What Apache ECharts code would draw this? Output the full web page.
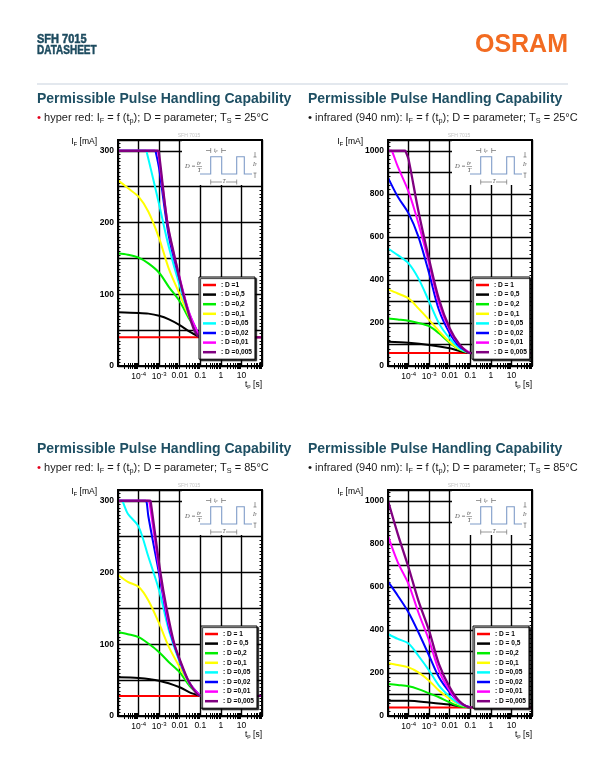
<!DOCTYPE html>
<html><head><meta charset="utf-8">
<script src="https://cdn.jsdelivr.net/npm/echarts@6/dist/echarts.min.js"></script>
<style>html,body{margin:0;padding:0;background:#fff;}#c{width:604px;height:757px;}</style>
</head><body><div id="c"></div>
<script>
// ---------------- DATA ----------------
// pulse length tp [s] vs permissible forward current IF [mA]; one array per duty cycle D
const hr25_D1     = [[1e-5,40],[100,40]];
const hr25_D05    = [[1e-5,75],[1e-4,74],[3e-4,73],[1e-3,70],[3e-3,65],[0.01,57],[0.03,48],[0.1,40]];
const hr25_D02    = [[1e-5,157],[3e-5,155],[1e-4,151],[3e-4,143],[1e-3,130],[3e-3,110],[0.01,90],[0.03,65],[0.1,41]];
const hr25_D01    = [[1e-5,259],[3e-5,248],[1e-4,236],[3e-4,215],[1e-3,178],[3e-3,135],[0.01,100],[0.03,68],[0.1,40]];
const hr25_D005   = [[1e-5,300],[2.3e-4,300],[2.6e-4,296],[5e-4,262],[1e-3,225],[3e-3,165],[0.01,112],[0.03,70],[0.1,40]];
const hr25_D002   = [[1e-5,300],[6.3e-4,300],[7e-4,297],[1e-3,275],[3e-3,180],[0.01,120],[0.03,72],[0.1,40]];
const hr25_D001   = [[1e-5,300],[8.2e-4,300],[9e-4,297],[3e-3,187],[0.01,123],[0.03,73],[0.1,40]];
const hr25_D0005  = [[1e-5,300],[8.8e-4,300],[1e-3,295],[2.5e-3,200],[5.9e-3,150],[0.015,100],[0.046,53],[0.1,40],[0.12,40],[100,40]];

const ir25_D1     = [[1e-5,60],[100,60]];
const ir25_D05    = [[1e-5,113],[1e-4,108],[1e-3,98],[0.01,82],[0.03,70],[0.1,60]];
const ir25_D02    = [[1e-5,221],[3e-5,216],[1e-4,210],[3e-4,200],[1e-3,185],[3e-3,152],[0.01,108],[0.03,76],[0.1,60]];
const ir25_D01    = [[1e-5,356],[3e-5,337],[1e-4,314],[3e-4,268],[1e-3,214],[3e-3,162],[0.01,112],[0.03,78],[0.1,60]];
const ir25_D005   = [[1e-5,546],[3e-5,515],[1e-4,477],[3e-4,407],[1e-3,299],[3e-3,198],[0.01,128],[0.03,82],[0.1,60]];
const ir25_D002   = [[1e-5,875],[3e-5,786],[1e-4,709],[3e-4,601],[1e-3,430],[3e-3,260],[0.01,152],[0.03,90],[0.1,60]];
const ir25_D001   = [[1e-5,1000],[1.5e-5,1000],[1.7e-5,990],[3e-5,926],[1e-4,810],[3e-4,663],[1e-3,475],[3e-3,291],[0.01,167],[0.03,98],[0.1,60]];
const ir25_D0005  = [[1e-5,1000],[6.8e-5,1000],[7.6e-5,992],[1e-4,960],[3e-4,720],[1e-3,495],[3e-3,310],[0.01,175],[0.03,100],[0.1,60],[0.12,60],[100,60]];

const hr85_D1     = [[1e-5,28],[100,28]];
const hr85_D05    = [[1e-5,54],[1e-4,53],[1e-3,49],[0.01,40],[0.03,33],[0.1,28]];
const hr85_D02    = [[1e-5,117],[3e-5,114],[1e-4,110],[3e-4,101],[1e-3,89],[3e-3,75],[0.01,61],[0.03,42],[0.1,28]];
const hr85_D01    = [[1e-5,197],[3e-5,187],[1e-4,180],[3e-4,161],[1e-3,129],[3e-3,96],[0.01,68],[0.03,45],[0.1,28]];
const hr85_D005   = [[1e-5,300],[1.6e-5,300],[1.8e-5,297],[3e-5,282],[1e-4,264],[3e-4,222],[1e-3,175],[3e-3,119],[0.01,75],[0.03,45],[0.1,28]];
const hr85_D002   = [[1e-5,300],[2.2e-4,300],[2.5e-4,297],[3e-4,278],[1e-3,198],[3e-3,124],[0.01,77],[0.03,46],[0.1,28]];
const hr85_D001   = [[1e-5,300],[3e-4,300],[3.4e-4,297],[1e-3,205],[3e-3,127],[0.01,78],[0.03,46],[0.1,28]];
const hr85_D0005  = [[1e-5,300],[3.6e-4,300],[4e-4,296],[1.15e-3,200],[2.3e-3,150],[5.5e-3,100],[0.01,79],[0.03,46],[0.1,28],[0.12,28],[100,28]];

const ir85_D1     = [[1e-5,40],[100,40]];
const ir85_D05    = [[1e-5,71],[1e-4,71],[1e-3,63],[0.01,53],[0.03,45],[0.1,40]];
const ir85_D02    = [[1e-5,149],[3e-5,144],[1e-4,138],[3e-4,125],[1e-3,105],[3e-3,87],[0.01,63],[0.03,45],[0.1,40]];
const ir85_D01    = [[1e-5,245],[3e-5,237],[1e-4,226],[3e-4,203],[1e-3,164],[3e-3,118],[0.01,79],[0.03,53],[0.1,40]];
const ir85_D005   = [[1e-5,381],[3e-5,358],[1e-4,337],[3e-4,280],[1e-3,211],[3e-3,141],[0.01,90],[0.03,56],[0.1,40]];
const ir85_D002   = [[1e-5,624],[3e-5,559],[1e-4,481],[3e-4,389],[1e-3,280],[3e-3,180],[0.01,110],[0.03,63],[0.1,40]];
const ir85_D001   = [[1e-5,837],[3e-5,714],[1e-4,613],[3e-4,481],[1e-3,350],[3e-3,211],[0.01,118],[0.03,63],[0.1,40]];
const ir85_D0005  = [[1e-5,1000],[3e-5,845],[1e-4,690],[3e-4,536],[1e-3,396],[3e-3,241],[0.01,133],[0.03,68],[0.1,40],[0.12,40],[100,40]];

const legend_hr25 = [': D =1',': D =0,5',': D =0,2',': D =0,1',': D =0,05',': D =0,02',': D =0,01',': D =0,005'];
const legend_ir25 = [': D = 1',': D = 0,5',': D = 0,2',': D = 0,1',': D = 0,05',': D = 0,02',': D = 0,01',': D = 0,005'];
const legend_hr85 = [': D = 1',': D = 0,5',': D =0,2',': D =0,1',': D =0,05',': D =0,02',': D =0,01',': D =0,005'];
const legend_ir85 = [': D = 1',': D = 0,5',': D =0,2',': D =0,1',': D =0,05',': D =0,02',': D =0,01',': D =0,005'];

const yMax300 = 315, yMax1000 = 1050;
const yLabelStep300 = 100, yLabelStep1000 = 200;
const xTickExp = {'-4':'10{sup|-4}','-3':'10{sup|-3}','-2':'0.01','-1':'0.1','0':'1','1':'10'};

// ---------------- STYLE / LAYOUT ----------------
const dColors = ['#ff0000','#000000','#00ee00','#ffff00','#00ffff','#0000ff','#ff00ff','#800080'];
const W = 144, H = 226;
const panels = [
  {L:118, T:140, data:[hr25_D1,hr25_D05,hr25_D02,hr25_D01,hr25_D005,hr25_D002,hr25_D001,hr25_D0005], leg:legend_hr25, yMax:yMax300, yInt:50, yLab:yLabelStep300, minor:10, legPos:[199,277], title:'hr', temp:'25'},
  {L:388, T:140, data:[ir25_D1,ir25_D05,ir25_D02,ir25_D01,ir25_D005,ir25_D002,ir25_D001,ir25_D0005], leg:legend_ir25, yMax:yMax1000, yInt:100, yLab:yLabelStep1000, minor:5, legPos:[472,277], title:'ir', temp:'25'},
  {L:118, T:490, data:[hr85_D1,hr85_D05,hr85_D02,hr85_D01,hr85_D005,hr85_D002,hr85_D001,hr85_D0005], leg:legend_hr85, yMax:yMax300, yInt:50, yLab:yLabelStep300, minor:10, legPos:[201,626], title:'hr', temp:'85'},
  {L:388, T:490, data:[ir85_D1,ir85_D05,ir85_D02,ir85_D01,ir85_D005,ir85_D002,ir85_D001,ir85_D0005], leg:legend_ir85, yMax:yMax1000, yInt:100, yLab:yLabelStep1000, minor:5, legPos:[473,626], title:'ir', temp:'85'}
];
const FF = '"Liberation Sans", Arial, sans-serif';
const minorVals = [];
for (let e=-5;e<2;e++) for (let m=2;m<10;m++) minorVals.push(m*Math.pow(10,e));

const grid=[], xAxis=[], yAxis=[], series=[], legend=[], graphic=[], title=[];

panels.forEach((p,i)=>{
  grid.push({left:p.L, top:p.T, width:W, height:H, show:false});
  xAxis.push({type:'log', logBase:10, gridIndex:i, min:1e-5, max:100,
    axisLine:{show:false}, axisTick:{show:false},
    splitLine:{show:true, lineStyle:{color:'#000', width:1.4}},
    axisLabel:{margin:5, color:'#000', fontSize:8.5, fontFamily:FF,
      formatter:v=>{const e=Math.round(Math.log10(v)); return xTickExp[String(e)]||'';},
      rich:{sup:{fontSize:6, verticalAlign:'top', fontFamily:FF, color:'#000', padding:[0,0,5,0]}}}});
  xAxis.push({type:'log', logBase:10, gridIndex:i, min:1e-5, max:100, position:'top',
    axisLine:{show:false}, axisLabel:{show:false}, splitLine:{show:false},
    axisTick:{show:true, inside:true, length:3, customValues:minorVals, lineStyle:{color:'#000', width:1}}});
  xAxis.push({type:'log', logBase:10, gridIndex:i, min:1e-5, max:100, position:'bottom',
    axisLine:{show:false}, axisLabel:{show:false}, splitLine:{show:false},
    axisTick:{show:true, inside:true, length:3, customValues:minorVals, lineStyle:{color:'#000', width:1}}});
  yAxis.push({type:'value', gridIndex:i, min:0, max:p.yMax, interval:p.yInt,
    axisLine:{show:false}, axisTick:{show:false, inside:true},
    minorTick:{show:true, splitNumber:p.minor, length:2.5, lineStyle:{color:'#000'}},
    splitLine:{show:true, lineStyle:{color:'#000', width:1.4}},
    axisLabel:{margin:4, color:'#000', fontSize:8.5, fontWeight:'bold', fontFamily:FF,
      formatter:v=>(v%p.yLab===0)? String(v):''}});
  yAxis.push({type:'value', gridIndex:i, min:0, max:p.yMax, interval:p.yInt, position:'right',
    axisLine:{show:false}, axisTick:{show:false, inside:true}, axisLabel:{show:false}, splitLine:{show:false},
    minorTick:{show:true, splitNumber:p.minor, length:2.5, lineStyle:{color:'#000'}}});
  const names=[];
  p.data.forEach((d,k)=>{
    const nm='p'+i+'_'+k; names.push(nm);
    series.push({type:'line', name:nm, xAxisIndex:3*i, yAxisIndex:2*i, data:d,
      showSymbol:false, symbol:'none', smooth:0.3, clip:true,
      lineStyle:{color:dColors[k], width:k===7?2.3:2}, itemStyle:{color:dColors[k]}, z:2+k*0.01});
  });
  const labs=p.leg;
  legend.push({orient:'vertical', left:p.legPos[0], top:p.legPos[1], data:names, selectedMode:false,
    icon:'rect', itemWidth:13, itemHeight:2.5, itemGap:1.6, padding:[4,3,3,4],
    backgroundColor:'#fff', borderColor:'#000', borderWidth:1,
    shadowColor:'rgba(0,0,0,0.85)', shadowOffsetX:1.5, shadowOffsetY:1.5, shadowBlur:1,
    formatter:n=>labs[+n.split('_')[1]],
    textStyle:{fontSize:6.6, fontWeight:'bold', fontFamily:FF, color:'#000', lineHeight:8}});
  const L=p.L, T=p.T;
  graphic.push({type:'rect', shape:{x:L,y:T,width:W,height:H}, style:{fill:null, stroke:'#000', lineWidth:2}, z:50});
  graphic.push({type:'rect', shape:{x:L+64,y:T+1,width:79,height:44}, style:{fill:'#fff'}, z:10});
  const blue='#7f9cc8';
  graphic.push({type:'polyline', shape:{points:[[L+82,T+34],[L+92.7,T+34],[L+92.7,T+16.7],[L+103.7,T+16.7],[L+103.7,T+34],[L+118.7,T+34],[L+118.7,T+16.7],[L+126.3,T+16.7],[L+126.3,T+34],[L+134,T+34]]}, style:{stroke:blue, lineWidth:1.1, fill:null}, z:11});
  graphic.push({type:'text', x:L+67, y:T+26.5, style:{text:'D =', font:'italic 6.5px "Liberation Serif"', fill:'#555', verticalAlign:'middle'}, z:11});
  graphic.push({type:'text', x:L+79, y:T+23, style:{text:'t{s|p}', rich:{s:{font:'italic 4.5px "Liberation Serif"', fill:'#555'}}, font:'italic 6.5px "Liberation Serif"', fill:'#555', verticalAlign:'middle'}, z:11});
  graphic.push({type:'line', shape:{x1:L+78.5,y1:T+26.5,x2:L+84,y2:T+26.5}, style:{stroke:'#555', lineWidth:0.5}, z:11});
  graphic.push({type:'text', x:L+79.5, y:T+30.5, style:{text:'T', font:'italic 6.5px "Liberation Serif"', fill:'#555', verticalAlign:'middle'}, z:11});
  graphic.push({type:'polyline', shape:{points:[[L+88,T+10.5],[L+92.7,T+10.5]]}, style:{stroke:'#555', lineWidth:0.6}, z:11});
  graphic.push({type:'polyline', shape:{points:[[L+103.7,T+10.5],[L+108,T+10.5]]}, style:{stroke:'#555', lineWidth:0.6}, z:11});
  graphic.push({type:'line', shape:{x1:L+92.7,y1:T+8,x2:L+92.7,y2:T+13}, style:{stroke:'#555', lineWidth:0.6}, z:11});
  graphic.push({type:'line', shape:{x1:L+103.7,y1:T+8,x2:L+103.7,y2:T+13}, style:{stroke:'#555', lineWidth:0.6}, z:11});
  graphic.push({type:'text', x:L+96, y:T+10.5, style:{text:'t{s|p}', rich:{s:{font:'italic 4px "Liberation Serif"', fill:'#555'}}, font:'italic 5.5px "Liberation Serif"', fill:'#555', verticalAlign:'middle'}, z:11});
  graphic.push({type:'line', shape:{x1:L+92.7,y1:T+42,x2:L+104,y2:T+42}, style:{stroke:'#555', lineWidth:0.6}, z:11});
  graphic.push({type:'line', shape:{x1:L+108,y1:T+42,x2:L+118.7,y2:T+42}, style:{stroke:'#555', lineWidth:0.6}, z:11});
  graphic.push({type:'line', shape:{x1:L+92.7,y1:T+39.5,x2:L+92.7,y2:T+44.5}, style:{stroke:'#555', lineWidth:0.6}, z:11});
  graphic.push({type:'line', shape:{x1:L+118.7,y1:T+39.5,x2:L+118.7,y2:T+44.5}, style:{stroke:'#555', lineWidth:0.6}, z:11});
  graphic.push({type:'text', x:L+106, y:T+42, style:{text:'T', font:'italic 5.5px "Liberation Serif"', fill:'#555', align:'center', verticalAlign:'middle'}, z:11});
  graphic.push({type:'line', shape:{x1:L+137,y1:T+12,x2:L+137,y2:T+17}, style:{stroke:'#555', lineWidth:0.6}, z:11});
  graphic.push({type:'line', shape:{x1:L+135.5,y1:T+17,x2:L+138.5,y2:T+17}, style:{stroke:'#555', lineWidth:0.6}, z:11});
  graphic.push({type:'text', x:L+137, y:T+25, style:{text:'I{s|F}', rich:{s:{font:'italic 3.5px "Liberation Serif"', fill:'#555'}}, font:'italic 5.5px "Liberation Serif"', fill:'#555', align:'center', verticalAlign:'middle'}, z:11});
  graphic.push({type:'line', shape:{x1:L+137,y1:T+33,x2:L+137,y2:T+38}, style:{stroke:'#555', lineWidth:0.6}, z:11});
  graphic.push({type:'line', shape:{x1:L+135.5,y1:T+33,x2:L+138.5,y2:T+33}, style:{stroke:'#555', lineWidth:0.6}, z:11});
  graphic.push({type:'text', x:L+71, y:T-4.5, style:{text:'SFH 7015', font:'5px '+FF, fill:'#c4c4c4', align:'center', verticalAlign:'middle'}, z:11});
  const yNameRight = p.yMax>500 ? L-25 : L-21;
  graphic.push({type:'text', x:yNameRight, y:T+2, style:{text:'I{s|F} [mA]', rich:{s:{font:'6px '+FF, fill:'#000', verticalAlign:'bottom', lineHeight:10}}, font:'8.5px '+FF, fill:'#000', align:'right', verticalAlign:'middle', lineHeight:10}, z:11});
  graphic.push({type:'text', x:L+W, y:T+H+18.5, style:{text:'t{s|p} [s]', rich:{s:{font:'6px '+FF, fill:'#000', verticalAlign:'bottom', lineHeight:10}}, font:'8.5px '+FF, fill:'#000', align:'right', verticalAlign:'middle', lineHeight:10}, z:11});
  const tx = p.L<300 ? 37 : 308;
  const ty = p.T<300 ? 92 : 442;
  title.push({text:'Permissible Pulse Handling Capability', left:tx, top:ty, padding:0,
    textStyle:{fontSize:14, fontWeight:'bold', color:'#1e4f63', fontFamily:FF}});
  const sub = p.title==='hr'
    ? '{b|•} hyper red: I{s|F} = f (t{s|p}); D = parameter; T{s|S} = '+p.temp+'°C'
    : '{k|•} infrared (940 nm): I{s|F} = f (t{s|p}); D = parameter; T{s|S} = '+p.temp+'°C';
  title.push({text:sub, left:tx, top:ty+18.5, padding:0,
    textStyle:{fontSize:11, fontWeight:'normal', color:'#1a1a1a', fontFamily:FF, lineHeight:14,
      rich:{b:{color:'#e3001b', fontSize:11.5, fontFamily:FF, lineHeight:14},
            k:{color:'#111', fontSize:11.5, fontFamily:FF, lineHeight:14},
            s:{fontSize:7.3, fontFamily:FF, color:'#1a1a1a', verticalAlign:'bottom', lineHeight:14}}}});
});

graphic.push({type:'text', x:37, y:40, scaleX:0.88, originX:0, style:{text:'SFH 7015', font:'bold 12.5px '+FF, fill:'#1c4a5e', stroke:'#1c4a5e', lineWidth:0.5, verticalAlign:'middle'}, z:5});
graphic.push({type:'text', x:37, y:51, scaleX:0.8, originX:0, style:{text:'DATASHEET', font:'bold 12.5px '+FF, fill:'#1c4a5e', stroke:'#1c4a5e', lineWidth:0.5, verticalAlign:'middle'}, z:5});
graphic.push({type:'text', x:568, y:45.5, style:{text:'OSRAM', font:'bold 25px '+FF, fill:'#f26b21', align:'right', verticalAlign:'middle'}, z:5});
graphic.push({type:'line', shape:{x1:37,y1:84,x2:568,y2:84}, style:{stroke:'#e3e8ee', lineWidth:2}, z:5});

const chart = echarts.init(document.getElementById('c'), null, {renderer:'canvas'});
chart.setOption({animation:false, backgroundColor:'#fff', grid, xAxis, yAxis, series, legend, graphic:{elements:graphic}, title});
</script></body></html>
